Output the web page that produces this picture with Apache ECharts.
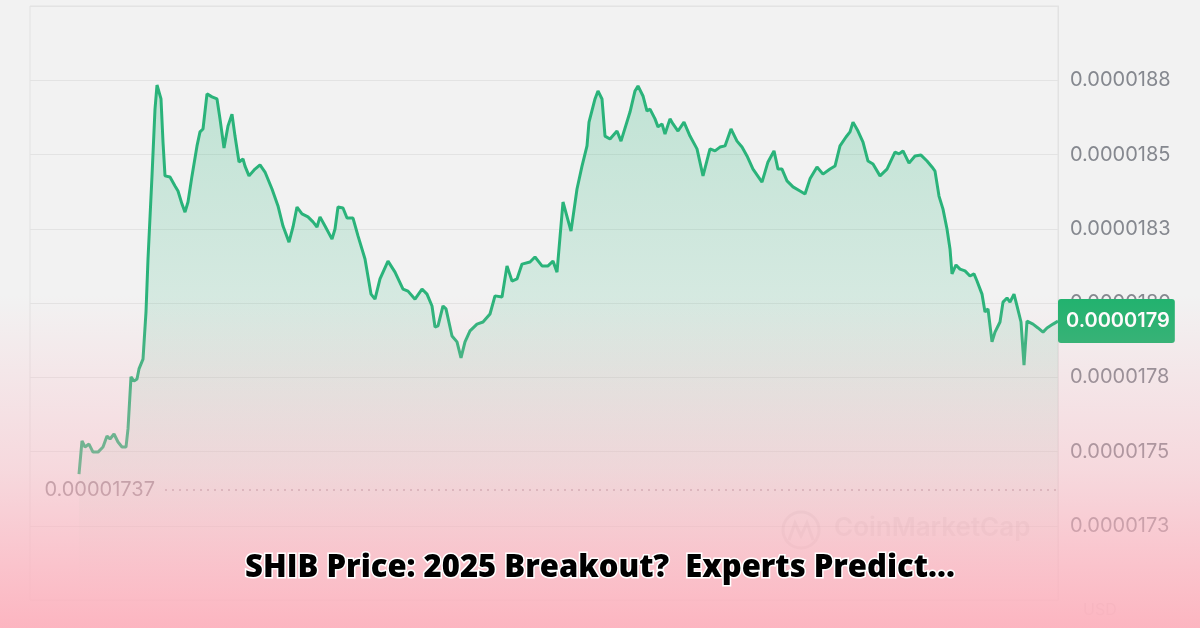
<!DOCTYPE html>
<html>
<head>
<meta charset="utf-8">
<script src="https://cdn.jsdelivr.net/npm/echarts@6/dist/echarts.min.js"></script>
<style>
  html, body { margin: 0; padding: 0; background: #f2f2f2; }
  #chart { width: 1200px; height: 628px; }
</style>
</head>
<body>
<div id="chart"></div>
<script>
// time steps (arbitrary units) and price in units of 1e-8 USD
const times = [0,3,6,10,14,19,24,28,31,35,39,43,47,49,52,55,58,60,64,67,69,73,76,78,82,84,86,91,96,99,103,106,109,113,118,121,124,128,133,138,141,145,149,153,156,160,164,166,170,176,181,186,193,199,204,210,214,218,223,229,234,238,241,246,253,256,259,264,268,274,279,286,292,296,301,309,316,324,329,336,343,348,353,356,359,364,367,373,378,382,386,391,398,404,411,416,423,428,433,438,443,451,456,463,469,474,478,484,492,498,503,508,510,516,519,523,526,531,538,542,551,556,559,564,568,571,576,579,583,586,591,594,599,605,611,618,624,631,636,641,646,652,658,663,668,674,683,689,695,699,703,708,714,721,726,731,738,744,751,756,761,767,771,774,779,784,789,794,801,808,816,820,824,830,836,842,848,853,856,860,864,868,871,873,877,881,886,891,895,898,903,906,909,913,916,921,924,928,931,935,938,942,945,948,954,959,964,968,974,979];
const prices = [1742.4,1753.6,1751.5,1752.5,1749.8,1749.8,1751.5,1755.2,1754.2,1755.9,1753.2,1751.5,1751.5,1757.6,1775.1,1773.7,1774.4,1777.8,1781.1,1797,1814.8,1842.8,1865.3,1873.4,1868.7,1854.2,1842.8,1842.4,1839.4,1837.7,1833.3,1830.6,1834,1842.8,1852.9,1857.6,1858.6,1870.4,1869.4,1868.7,1862,1852.2,1859.6,1863.6,1856.2,1847.5,1848.5,1846.1,1842.8,1845.1,1846.5,1844.1,1838.4,1832.7,1825.9,1820.5,1825.6,1832.3,1830,1829,1827.3,1825.6,1829,1825.9,1821.5,1824.9,1832.3,1832,1828.6,1828.6,1822.6,1814.8,1803,1801.3,1808.1,1814.1,1810.4,1804.7,1804,1801.3,1804.7,1803,1799,1791.9,1792.3,1799,1798,1788.9,1786.9,1781.5,1786.9,1790.6,1792.9,1793.6,1796.3,1802.4,1802,1812.5,1807.4,1808.1,1813.1,1813.8,1815.5,1812.5,1812.5,1814.1,1810.4,1834,1824.2,1838.4,1846.1,1852.9,1860.9,1868.7,1871.4,1868.7,1856.2,1855.2,1857.9,1854.5,1864.3,1871.4,1873.1,1869.7,1864.6,1865.3,1862,1859.3,1860.3,1856.9,1862,1860.3,1857.9,1860.9,1856.2,1851.9,1842.8,1851.9,1851.2,1852.5,1852.9,1858.6,1854.5,1852.5,1849.5,1845.1,1840.7,1847.5,1851.2,1845.1,1845.1,1841.1,1839.1,1837.7,1836.7,1841.8,1845.8,1843.4,1845.1,1846.1,1852.9,1855.9,1857.6,1860.9,1857.9,1854.2,1847.8,1846.8,1842.8,1845.1,1850.8,1850.2,1851.2,1847.1,1849.5,1849.8,1847.8,1845.8,1844.4,1836,1831.6,1824.9,1818.2,1809.8,1812.8,1811.4,1810.8,1809.1,1809.8,1807.4,1803,1797,1798,1786.9,1790.2,1793.6,1800.3,1801.7,1800.3,1803,1799,1793.6,1779.1,1793.9,1792.9,1791.6,1790.2,1791.6,1792.9,1793.9];
const lowMarker = 1737;        // dotted reference level (1e-8 USD)
const lowMarkerStart = 86;     // time step where the dotted line begins
const yTicks = { min: 1700, max: 1900, step: 25 };
const titleText = 'SHIB Price: 2025 Breakout?  Experts Predict...';
const unitLabel = 'USD';
const watermark = 'CoinMarketCap';

const seriesData = times.map((t, i) => [t, prices[i]]);
const lastPoint = seriesData[seriesData.length - 1];

const chart = echarts.init(document.getElementById('chart'), null, { renderer: 'canvas' });
chart.setOption({
  backgroundColor: '#f2f2f2',
  animation: false,
  title: {
    text: titleText,
    left: 'center',
    top: 548,
    z: 100,
    textStyle: {
      fontFamily: 'Open Sans',
      fontWeight: 800,
      fontSize: 31,
      color: '#000',
      textBorderColor: '#fff',
      textBorderWidth: 3
    }
  },
  grid: {
    left: 30, right: 142, top: 6, bottom: 28,
    show: true, borderColor: '#e2e2e2', borderWidth: 1, backgroundColor: 'transparent'
  },
  xAxis: {
    type: 'value', min: -49, max: 979, show: false, splitLine: { show: false }
  },
  yAxis: {
    type: 'value', position: 'right', min: yTicks.min, max: yTicks.max, interval: yTicks.step,
    axisLine: { show: true, onZero: false, lineStyle: { color: '#e2e2e2' } },
    axisTick: { show: false },
    splitLine: { lineStyle: { color: '#e3e3e3', width: 1 } },
    axisLabel: {
      margin: 12,
      color: '#85888f',
      fontFamily: 'Inter',
      fontSize: 20,
      formatter: v => (v <= yTicks.min || v >= yTicks.max) ? '' : '0.0000' + Math.round(v / 10)
    }
  },
  series: [{
    type: 'line',
    data: seriesData,
    showSymbol: false,
    symbol: 'none',
    z: 3,
    lineStyle: { color: '#2ab37a', width: 3 },
    areaStyle: {
      origin: 'start',
      color: new echarts.graphic.LinearGradient(0, 0, 0, 1, [
        { offset: 0, color: 'rgba(46,182,125,0.36)' },
        { offset: 0.5, color: 'rgba(46,182,125,0.18)' },
        { offset: 1, color: 'rgba(46,182,125,0.0)' }
      ])
    },
    markLine: {
      silent: true,
      symbol: 'none',
      animation: false,
      data: [
        [
          { coord: [lowMarkerStart, lowMarker],
            lineStyle: { type: [2, 5], color: '#b3a9ad', width: 1.6 },
            label: { show: true, position: 'start', distance: 10,
              formatter: () => (lowMarker / 1e8).toFixed(8),
              color: '#9a9499', fontFamily: 'Inter', fontSize: 20 } },
          { coord: [lastPoint[0], lowMarker] }
        ],
        {
          yAxis: lastPoint[1],
          lineStyle: { color: 'rgba(0,0,0,0)', width: 0.1 },
          label: {
            show: true, position: 'end', distance: 0,
            formatter: () => '0.0000' + Math.round(lastPoint[1] / 10),
            backgroundColor: '#20b26e', color: '#ffffff',
            fontFamily: 'Inter', fontSize: 20, fontWeight: 600,
            padding: [12, 5, 12, 8], borderRadius: 3
          }
        }
      ]
    }
  }],
  graphic: [
    { type: 'circle', z: 10, shape: { cx: 801, cy: 530, r: 18 },
      style: { fill: 'none', stroke: 'rgba(150,150,150,0.16)', lineWidth: 3 } },
    { type: 'polyline', z: 10, shape: { points: [[789,540],[795,523],[801,536],[807,523],[813,540]] },
      style: { fill: 'none', stroke: 'rgba(150,150,150,0.16)', lineWidth: 3 } },
    { type: 'text', z: 10, left: 834, top: 515,
      style: { text: watermark, fill: 'rgba(150,150,150,0.16)', font: '600 26px Inter' } },
    { type: 'text', z: 10, left: 1083, top: 602,
      style: { text: unitLabel, fill: 'rgba(150,140,145,0.35)', font: '16px Inter' } },
    { type: 'rect', z: 50, silent: true, shape: { x: 0, y: 0, width: 1200, height: 628 },
      style: { fill: new echarts.graphic.LinearGradient(0, 0, 0, 1, [
        { offset: 0, color: 'rgba(253,178,190,0)' },
        { offset: 0.47, color: 'rgba(253,178,190,0)' },
        { offset: 0.75, color: 'rgba(253,178,190,0.4)' },
        { offset: 1, color: 'rgba(253,178,190,0.95)' }
      ]) } }
  ]
});
</script>
</body>
</html>
